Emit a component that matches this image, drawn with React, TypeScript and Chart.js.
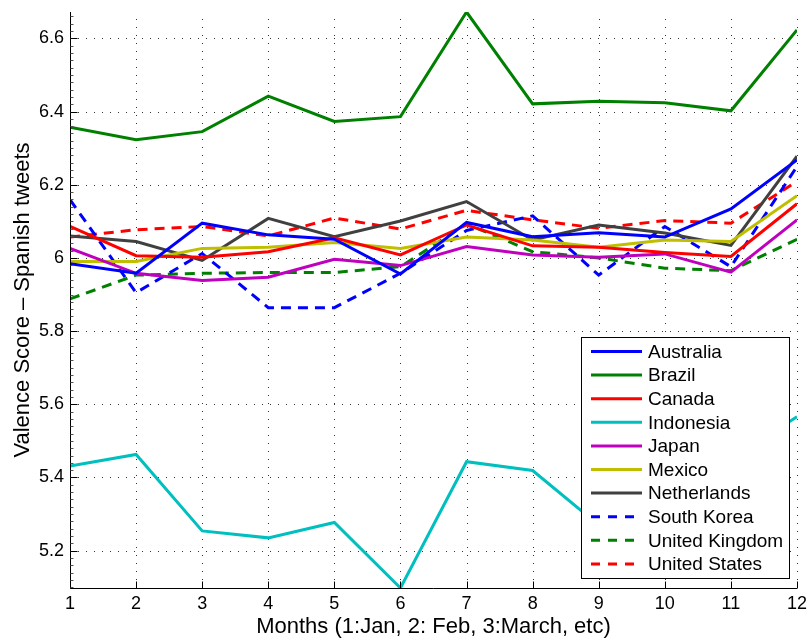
import React, { useEffect, useRef } from "react";
import { Chart, registerables } from "chart.js";

Chart.register(...registerables);

// Month index on the x axis
const months = [1, 2, 3, 4, 5, 6, 7, 8, 9, 10, 11, 12];

// Mean valence of Spanish-language tweets per country and month
const australia = [5.984, 5.958, 6.095, 6.063, 6.051, 5.956, 6.097, 6.058, 6.069, 6.057, 6.134, 6.268];
const brazil = [6.357, 6.323, 6.345, 6.442, 6.373, 6.386, 6.672, 6.421, 6.428, 6.424, 6.402, 6.623];
const canada = [6.086, 6.006, 6.002, 6.017, 6.055, 6.008, 6.09, 6.033, 6.029, 6.015, 6.004, 6.148];
const indonesia = [5.431, 5.463, 5.254, 5.235, 5.277, 5.098, 5.443, 5.419, 5.27, 5.4, 5.45, 5.566];
const japan = [6.026, 5.958, 5.938, 5.947, 5.996, 5.979, 6.031, 6.008, 6.002, 6.011, 5.961, 6.104];
const mexico = [5.99, 5.99, 6.026, 6.029, 6.042, 6.026, 6.057, 6.049, 6.029, 6.049, 6.045, 6.17];
const netherlands = [6.06, 6.045, 5.993, 6.108, 6.058, 6.101, 6.154, 6.049, 6.09, 6.068, 6.034, 6.278];
const southKorea = [6.159, 5.905, 6.012, 5.864, 5.864, 5.958, 6.075, 6.115, 5.953, 6.086, 5.976, 6.25];
const unitedKingdom = [5.888, 5.953, 5.958, 5.96, 5.96, 5.976, 6.093, 6.017, 6.0, 5.972, 5.965, 6.051];
const unitedStates = [6.057, 6.077, 6.086, 6.06, 6.109, 6.079, 6.13, 6.104, 6.081, 6.102, 6.095, 6.209];

// Axis ticks
const yTicks = [5.2, 5.4, 5.6, 5.8, 6.0, 6.2, 6.4, 6.6];
const yMinorStep = 0.02;

const FONT = "'Liberation Sans', Arial, Helvetica, sans-serif";

type Series = { label: string; values: number[]; color: string; dashed: boolean };

const series: Series[] = [
  { label: "Australia", values: australia, color: "#0000ff", dashed: false },
  { label: "Brazil", values: brazil, color: "#008000", dashed: false },
  { label: "Canada", values: canada, color: "#ff0000", dashed: false },
  { label: "Indonesia", values: indonesia, color: "#00bfbf", dashed: false },
  { label: "Japan", values: japan, color: "#bf00bf", dashed: false },
  { label: "Mexico", values: mexico, color: "#bfbf00", dashed: false },
  { label: "Netherlands", values: netherlands, color: "#404040", dashed: false },
  { label: "South Korea", values: southKorea, color: "#0000ff", dashed: true },
  { label: "United Kingdom", values: unitedKingdom, color: "#008000", dashed: true },
  { label: "United States", values: unitedStates, color: "#ff0000", dashed: true },
];

const DASH = [10, 7];

// Dotted grid under the lines, axis lines and inward ticks over them
const gridPlugin = {
  id: "dottedGrid",
  beforeDatasetsDraw(chart: any) {
    const { ctx, chartArea: a, scales } = chart;
    ctx.save();
    ctx.strokeStyle = "#333";
    ctx.lineWidth = 1;
    ctx.setLineDash([1, 7]);
    for (const m of months) {
      const x = Math.round(scales.x.getPixelForValue(m)) + 0.5;
      ctx.beginPath();
      ctx.moveTo(x, a.bottom);
      ctx.lineTo(x, a.top);
      ctx.stroke();
    }
    for (const v of yTicks) {
      const y = Math.round(scales.y.getPixelForValue(v)) + 0.5;
      ctx.beginPath();
      ctx.moveTo(a.left, y);
      ctx.lineTo(a.right, y);
      ctx.stroke();
    }
    ctx.restore();
  },
  afterDatasetsDraw(chart: any) {
    const { ctx, chartArea: a, scales } = chart;
    ctx.save();
    ctx.strokeStyle = "#000";
    ctx.lineWidth = 1;
    ctx.setLineDash([]);
    const left = Math.round(a.left) + 0.5;
    const bottom = Math.round(a.bottom) + 0.5;
    ctx.beginPath();
    ctx.moveTo(left, a.top);
    ctx.lineTo(left, bottom);
    ctx.lineTo(a.right, bottom);
    ctx.stroke();
    for (const m of months) {
      const x = Math.round(scales.x.getPixelForValue(m)) + 0.5;
      ctx.beginPath();
      ctx.moveTo(x, bottom);
      ctx.lineTo(x, bottom - 7);
      ctx.stroke();
    }
    const yMin = scales.y.min;
    const yMax = scales.y.max;
    const start = Math.ceil(yMin / yMinorStep - 1e-6);
    const end = Math.floor(yMax / yMinorStep + 1e-6);
    ctx.strokeStyle = "#555";
    for (let i = start; i <= end; i++) {
      const y = Math.round(scales.y.getPixelForValue(i * yMinorStep)) + 0.5;
      ctx.beginPath();
      ctx.moveTo(left, y);
      ctx.lineTo(left + 3, y);
      ctx.stroke();
    }
    ctx.strokeStyle = "#000";
    for (const v of yTicks) {
      const y = Math.round(scales.y.getPixelForValue(v)) + 0.5;
      ctx.beginPath();
      ctx.moveTo(left, y);
      ctx.lineTo(left + 7, y);
      ctx.stroke();
    }
    ctx.restore();
  },
};

// Boxed legend inside the lower right of the plot
const boxLegendPlugin = {
  id: "boxLegend",
  afterDraw(chart: any) {
    const { ctx } = chart;
    const a = chart.chartArea;
    const boxRight = a.right - 8;
    const boxBottom = a.bottom - 10;
    const boxW = 208;
    const rowH = 23.6;
    const boxH = rowH * series.length + 5;
    const boxLeft = boxRight - boxW;
    const boxTop = boxBottom - boxH;
    ctx.save();
    ctx.fillStyle = "#fff";
    ctx.fillRect(boxLeft, boxTop, boxW, boxH);
    ctx.strokeStyle = "#000";
    ctx.lineWidth = 1;
    ctx.setLineDash([]);
    ctx.strokeRect(Math.round(boxLeft) + 0.5, Math.round(boxTop) + 0.5, Math.round(boxW), Math.round(boxH));
    ctx.font = `19px ${FONT}`;
    ctx.textBaseline = "middle";
    ctx.textAlign = "left";
    chart.data.datasets.forEach((ds: any, i: number) => {
      const y = boxTop + 14.5 + i * rowH;
      ctx.strokeStyle = ds.borderColor;
      ctx.lineWidth = 3;
      ctx.setLineDash(ds.borderDash && ds.borderDash.length ? [9, 8] : []);
      ctx.beginPath();
      ctx.moveTo(boxLeft + 10, y);
      ctx.lineTo(boxLeft + 61, y);
      ctx.stroke();
      ctx.setLineDash([]);
      ctx.fillStyle = "#000";
      ctx.fillText(ds.label, boxLeft + 67, y + 1);
    });
    ctx.restore();
  },
};

export default function App() {
  const canvasRef = useRef<HTMLCanvasElement | null>(null);

  useEffect(() => {
    const canvas = canvasRef.current;
    if (!canvas) return;
    const all = series.flatMap((s) => s.values);
    const chart = new Chart(canvas, {
      type: "line",
      data: {
        labels: months,
        datasets: series.map((s) => ({
          label: s.label,
          data: months.map((m, i) => ({ x: m, y: s.values[i] })),
          borderColor: s.color,
          backgroundColor: s.color,
          borderWidth: 3,
          borderDash: s.dashed ? DASH : [],
          pointRadius: 0,
          tension: 0,
          fill: false,
        })),
      },
      options: {
        responsive: false,
        animation: false,
        layout: { padding: { left: 0, right: 11, top: 12, bottom: 0 } },
        plugins: {
          legend: { display: false },
          tooltip: { enabled: false },
        },
        scales: {
          x: {
            type: "linear",
            min: 1,
            max: 12,
            grid: { display: false, drawTicks: true, tickLength: 5 },
            border: { display: false },
            afterBuildTicks: (scale: any) => {
              scale.ticks = months.map((m) => ({ value: m }));
            },
            afterFit: (scale: any) => {
              scale.height = 52;
            },
            ticks: {
              color: "#000",
              padding: 0,
              maxRotation: 0,
              font: { family: FONT, size: 18 },
              callback: (v: any) => String(v),
            },
            title: {
              display: true,
              text: "Months (1:Jan, 2: Feb, 3:March, etc)",
              color: "#000",
              font: { family: FONT, size: 22 },
              padding: { top: 0, bottom: 0 },
            },
          },
          y: {
            type: "linear",
            min: Math.min(...all),
            max: Math.max(...all),
            grid: { display: false, drawTicks: true, tickLength: 6 },
            border: { display: false },
            afterBuildTicks: (scale: any) => {
              scale.ticks = yTicks.map((v) => ({ value: v }));
            },
            afterFit: (scale: any) => {
              scale.width = 70;
            },
            ticks: {
              color: "#000",
              padding: 0,
              font: { family: FONT, size: 18 },
              callback: (v: any) => String(Number(Number(v).toFixed(1))),
            },
            title: {
              display: true,
              text: "Valence Score – Spanish tweets",
              color: "#000",
              font: { family: FONT, size: 22 },
              padding: { top: 10, bottom: 0 },
            },
          },
        },
      },
      plugins: [gridPlugin, boxLegendPlugin],
    });
    return () => chart.destroy();
  }, []);

  return (
    <div style={{ position: "absolute", left: 0, top: 0, width: 808, height: 640, background: "#fff" }}>
      <canvas ref={canvasRef} width={808} height={640} style={{ display: "block" }} />
    </div>
  );
}
